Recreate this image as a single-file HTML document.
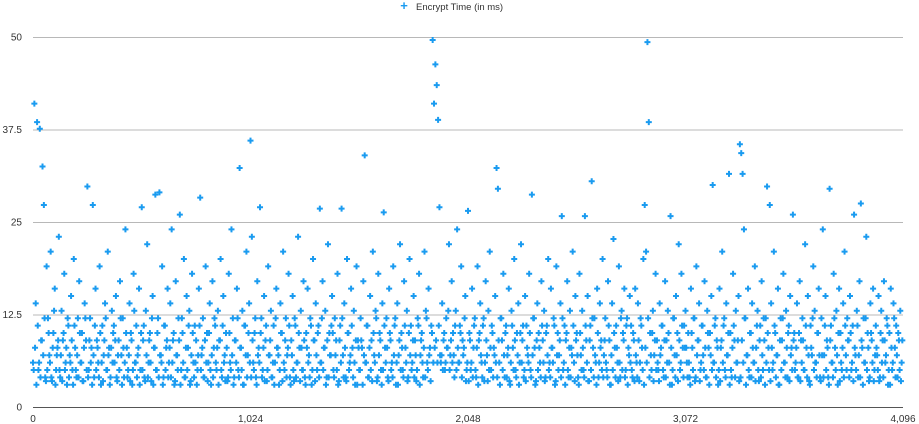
<!DOCTYPE html>
<html><head><meta charset="utf-8"><style>
html,body{margin:0;padding:0;background:#fff;}
svg{display:block;font-family:"Liberation Sans",sans-serif;}
</style></head><body>
<svg id="chart" width="919" height="424">
 <g id="grid"></g>
 <g id="yticks"></g>
 <g id="xticks"></g>
 <g id="points"></g>
 <g>
  <text x="404" y="10" font-size="13" font-weight="bold" fill="#1a9bf0" text-anchor="middle">+</text>
  <text x="416" y="10" font-size="9.5" fill="#333">Encrypt Time (in ms)</text>
 </g>
</svg>
<script>
const yTicks=[0,12.5,25,37.5,50];
const yTickLabels=["0","12.5","25","37.5","50"];
const xTicks=[0,1024,2048,3072,4096];
const xTickLabels=["0","1,024","2,048","3,072","4,096"];
const xStep=6.4;
const encryptTimes=[
6,41,14,38.5,5,37.6,9,32.5,27.3,4,19,12,7,21,3.5,10,16,5,8,23,
4,13,9,18,6,3,11,7,15,5,20,8,4,12,17,6,10,3.5,14,9,
29.8,5,12,8,27.3,4,16,9,6,19,3,11,7,14,5,21,8,4,13,10,
6,15,3.5,9,17,7,12,4,24,8,5,14,10,3,18,6,11,7,16,5,
27,9,4,13,22,6,10,3.5,15,8,28.7,5,12,29,7,19,4,11,8,16,
6,14,24,9,3,17,7,12,26,5,10,20,4,15,8,13,3.5,18,6,11,
9,5,16,28.3,7,12,4,19,10,6,14,3,17,8,11,5,13,9,20,4,
15,7,10,3.5,18,6,24,12,4,9,16,5,32.3,8,13,3,11,21,7,14,
36,23,6,10,4,17,8,27,12,5,15,9,3.5,19,7,13,4,11,6,16,
8,3,14,10,21,5,12,7,18,4,9,15,3.5,11,6,23,8,13,5,17,
4,10,16,7,12,3,20,9,14,5,11,26.8,6,17,8,13,4,22,10,7,
15,5,12,9,18,3.5,11,26.8,7,14,4,20,10,6,16,8,13,3,19,9,
5,12,8,17,34,6,11,4,15,9,21,7,13,3.5,18,10,5,14,26.3,8,
12,4,16,9,6,19,11,3,14,7,22,10,5,17,8,13,4,20,11,6,
15,9,3.5,12,18,7,10,4,21,13,6,16,8,11,49.6,41,46.3,43.5,38.8,27,
6,14,9,5,12,8,22,7,17,10,4,13,24,6,11,19,9,8,15,5,
26.5,10,5,16,8,12,4,19,9,14,6,11,3.5,17,7,13,21,5,10,8,
15,32.3,29.5,6,12,9,18,4,11,7,16,3,13,8,20,5,10,14,6,22,
9,4,15,11,7,18,5,28.7,12,8,3.5,14,10,6,17,9,13,4,11,20,
6,16,8,12,3,19,10,7,14,25.8,5,11,9,17,4,13,8,21,6,15,
10,4,18,7,13,5,25.8,9,15,3.5,11,30.5,8,12,6,16,4,14,9,20,
7,12,5,17,9,3,14,22.7,8,11,6,19,4,13,10,16,5,12,8,15,
11,4,9,16,6,14,3.5,12,8,20,27.3,21,49.3,38.5,10,5,13,7,18,9,
5,14,8,11,4,17,9,13,6,25.8,3,12,7,15,10,22,5,18,8,11,
13,6,10,4,16,8,12,3.5,19,9,14,5,11,7,17,4,13,8,10,15,
30,6,12,9,3,16,8,21,11,5,14,7,31.5,10,4,18,9,13,6,15,
35.5,34.3,31.5,24,12,7,16,4,10,14,6,19,8,13,3.5,11,17,5,9,12,
29.8,8,27.3,14,5,21,10,7,16,3,12,9,18,6,13,4,11,15,8,26,
10,6,14,4,17,9,12,5,22,8,15,3.5,11,7,19,13,6,10,16,4,
12,24,7,15,9,4,29.5,11,6,18,8,13,3,16,10,5,14,21,7,12,
9,15,5,11,26,7,13,4,17,27.5,8,12,6,23,10,3.5,14,9,16,5,
11,7,15,4,13,9,17,6,12,3,10,16,5,14,8,11,4,9,13,6
];
const encryptTimesB=[
5,8,3,11,6,4,9,7,12,3.5,5,10,6,4,8,13,3,7,9,5,
7,3.5,10,5,8,12,4,6,9,3,11,5,7,4,10,6,3.5,8,12,5,
4,9,6,3,7,11,5,8,4,10,6,3.5,9,12,5,7,3,8,6,11,
9,4,7,5,12,3,8,6,10,4,7,3.5,9,5,13,6,4,8,3,10,
5,11,3.5,7,4,9,6,12,3,8,5,10,4,7,6,3,11,5,9,4,
8,4,6,10,3.5,7,5,9,3,12,6,4,8,5,11,3,7,10,4,6,
3,7,11,5,8,4,9,6,3.5,10,5,7,4,12,6,8,3,9,5,11,
6,3.5,8,4,10,5,7,3,9,6,12,4,8,5,3,11,7,4,10,6,
4,9,5,12,3,7,6,10,4,8,3.5,11,5,7,9,4,6,3,12,8,
7,5,10,3.5,6,9,4,8,11,3,7,5,12,4,6,10,3.5,8,5,9,
3,8,6,4,11,5,9,3.5,7,10,4,6,12,5,8,3,9,4,7,11,
10,4,7,5,3,9,6,12,4,8,3.5,10,5,7,11,4,6,9,3,8,
5,9,3,7,6,11,4,8,5,3.5,10,6,12,4,7,9,3,5,11,6,
8,3.5,10,5,4,7,12,6,3,9,5,8,4,11,6,3.5,10,7,5,9,
4,7,5,11,3,9,6,8,4,12,5,7,3.5,10,6,8,9,6,11,7,
7,5,10,6,8,13,5,9,6,7,11,5,8,6,10,4,7,12,3.5,6,
3.5,9,6,4,11,5,8,3,10,7,4,12,6,9,3.5,5,8,11,4,7,
6,4,9,3,12,5,7,10,4,8,3.5,6,11,5,9,4,7,3,10,6,
11,5,3.5,8,6,10,4,7,12,3,9,5,8,4,11,6,3.5,10,7,5,
4,8,6,11,3.5,7,5,9,4,12,6,3,10,5,8,4,7,11,3.5,9,
7,3,10,5,8,4,11,6,3.5,9,5,12,4,7,3,10,6,8,5,4,
9,6,4,11,3,7,5,10,4,8,3.5,6,12,5,9,4,11,3,7,6,
5,10,3.5,7,4,9,6,11,5,3,8,6,12,4,7,10,3.5,9,5,6,
3.5,7,11,5,9,4,6,10,3,8,5,12,4,7,3.5,9,6,11,4,8,
8,4,6,3,10,5,12,4,7,9,3.5,6,11,5,8,4,10,3,7,5,
6,11,4,8,5,3.5,9,6,12,4,7,10,3,5,8,11,4,6,9,3.5,
4,9,6,12,3,7,5,10,4,8,6,3.5,11,5,9,4,7,12,3,6,
10,5,3.5,8,6,11,4,7,3,9,5,12,6,4,8,10,3.5,7,5,9,
5,8,4,10,3.5,6,9,5,11,4,7,3,8,12,5,6,4,10,7,3.5,
7,4,11,5,8,3,9,6,4,12,5,7,10,3.5,6,8,4,11,5,9,
4,10,6,3.5,8,5,11,7,4,9,3,6,12,5,8,4,10,6,3.5,7,
8,5,3.5,10,6,4,9,7,11,5,3,8,6,12,4,7,10,5,3.5,9
];
const NS="http://www.w3.org/2000/svg";
const X0=33,X1=903,Y0=407,Y1=37;
function xScale(v){return X0+(v/4096)*(X1-X0);}
function yScale(v){return Y0-(v/50)*(Y0-Y1);}
const grid=document.getElementById('grid'),yt=document.getElementById('yticks'),xt=document.getElementById('xticks'),pts=document.getElementById('points');
yTicks.forEach((t,i)=>{
 const l=document.createElementNS(NS,'line');
 l.setAttribute('x1',X0);l.setAttribute('x2',X1);
 l.setAttribute('y1',yScale(t)+0.5);l.setAttribute('y2',yScale(t)+0.5);
 l.setAttribute('stroke',t===0?'#555':'#b8b8b8');l.setAttribute('stroke-width','1');
 
 
 grid.appendChild(l);
 const tx=document.createElementNS(NS,'text');
 tx.setAttribute('x',22);tx.setAttribute('y',yScale(t)+3.5);
 tx.setAttribute('text-anchor','end');tx.setAttribute('font-size','10');tx.setAttribute('fill','#333');
 tx.textContent=yTickLabels[i];
 
 
 yt.appendChild(tx);
});
xTicks.forEach((t,i)=>{
 const tx=document.createElementNS(NS,'text');
 tx.setAttribute('x',xScale(t));tx.setAttribute('y',422);
 tx.setAttribute('text-anchor','middle');tx.setAttribute('font-size','10');tx.setAttribute('fill','#333');
 tx.textContent=xTickLabels[i];
 
 
 xt.appendChild(tx);
});
function drawPoint(xv,v){
 const cx=xScale(xv),cy=yScale(v);
 const p=document.createElementNS(NS,'path');
 p.setAttribute('d',`M${cx-3},${cy}H${cx+3}M${cx},${cy-3}V${cy+3}`);
 p.setAttribute('stroke','#1a9bf0');p.setAttribute('stroke-width','2');
 
 
 pts.appendChild(p);
}
encryptTimes.forEach((v,i)=>drawPoint(i*xStep,v));
encryptTimesB.forEach((v,i)=>drawPoint(i*xStep+xStep/2,v));
</script>
</body></html>
